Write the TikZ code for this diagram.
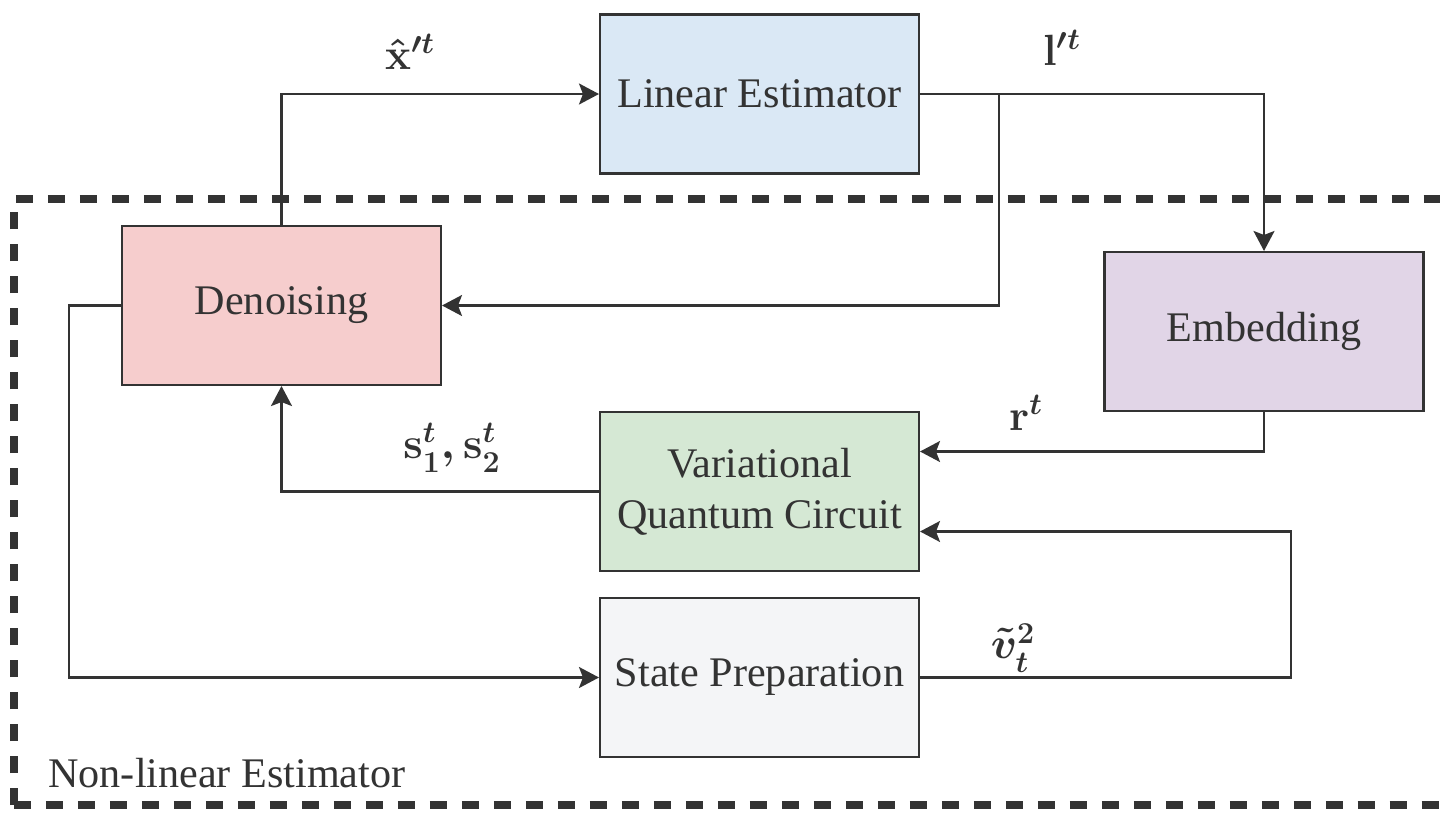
\documentclass[tikz,border=0pt]{standalone}
\usepackage{fontspec}
\setmainfont{Liberation Serif}
\usetikzlibrary{arrows.meta,calc}
\definecolor{strk}{HTML}{333333}
\definecolor{cblue}{HTML}{DAE8F5}
\definecolor{cpink}{HTML}{F6CDCD}
\definecolor{cpurp}{HTML}{E1D5E7}
\definecolor{cgreen}{HTML}{D5E8D4}
\definecolor{cgray}{HTML}{F4F5F7}
\tikzset{
  blk/.style={draw=strk, line width=1.2pt, minimum width=6.38cm, minimum height=3.18cm, inner sep=0pt, align=center, font=\fontsize{24}{29}\selectfont, text=strk},
  conn/.style={draw=strk, line width=1.2pt, -{Stealth[length=0.4cm,width=0.42cm,inset=0.08cm]}},
  lbl/.style={font=\fontsize{26}{31}\selectfont\boldmath, text=strk, inner sep=0pt},
  frame/.style={draw=strk, line width=4pt, dash pattern=on 0.34cm off 0.3cm}
}
\begin{document}
\begin{tikzpicture}[x=0.02cm,y=-0.02cm]
\clip (0,0) rectangle (1440,812);
\fill[white] (0,0) rectangle (1440,812);
\draw[frame] (14,805) -- (14,199) -- (1480,199);
\draw[frame] (14,805) -- (1480,805);
\node[blk, fill=cblue] (lin) at (759.5,94) {Linear Estimator};
\node[blk, fill=cpink] (den) at (281.5,305.5) {Denoising};
\node[blk, fill=cpurp] (emb) at (1264,331.5) {Embedding};
\node[blk, fill=cgreen] (vqc) at (759.5,491.5) {Variational\\Quantum Circuit};
\node[blk, fill=cgray] (sp) at (759.5,677.5) {State Preparation};
\node[anchor=west, inner sep=0pt, font=\fontsize{24}{29}\selectfont, text=strk] (nle) at (48,773) {Non-linear Estimator};
\coordinate (br) at (999,94);
\draw[conn] (den.north) |- (lin.west);
\draw[conn] (lin.east) -| (emb.north);
\draw[conn] (br) |- (den.east);
\draw[conn] (emb.south) |- ([yshift=0.8cm]vqc.east);
\draw[conn] (vqc.west) -| (den.south);
\draw[conn] (den.west) -- ++(-52,0) |- (sp.west);
\draw[conn] (sp.east) -- ++(371,0) |- ([yshift=-0.8cm]vqc.east);
\node[lbl] (lx) at (410,52) {$\hat{\mathbf{x}}'^{t}$};
\node[lbl] (ll) at (1062,48) {$\mathbf{l}'^{t}$};
\node[lbl] (lr) at (1026,413) {$\mathbf{r}^{t}$};
\node[lbl] (ls) at (452,448) {$\mathbf{s}_1^{t},\mathbf{s}_2^{t}$};
\node[lbl] (lv) at (1013,648) {$\tilde{v}_t^{2}$};
\end{tikzpicture}
\end{document}
